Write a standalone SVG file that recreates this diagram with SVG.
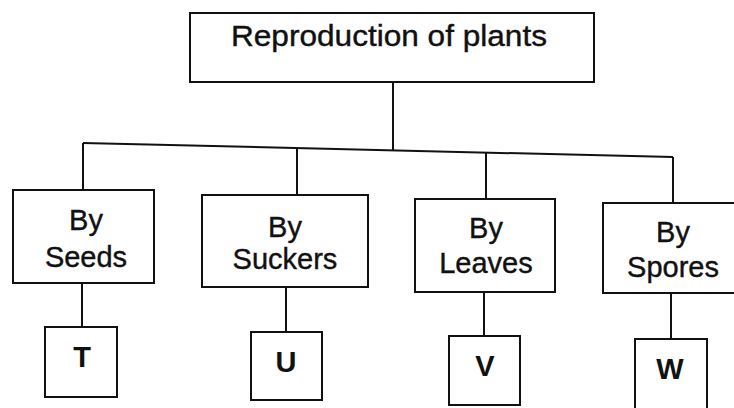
<svg xmlns="http://www.w3.org/2000/svg" width="734" height="408" viewBox="0 0 734 408">
<style>
.box{fill:#fff;stroke:#111;stroke-width:2}
.lbl{font-family:"Liberation Sans",Arial,sans-serif;font-size:29px;fill:#111;stroke:#111;stroke-width:0.4;text-anchor:middle}
.ltr{font-family:"Liberation Sans",Arial,sans-serif;font-size:29px;font-weight:bold;fill:#111;text-anchor:middle}
.con{fill:none;stroke:#111;stroke-width:2}
</style>
<rect width="734" height="408" fill="#fff"/>
<g id="connectors">
<line class="con" x1="393" y1="82" x2="393" y2="150"/>
<line class="con" x1="83" y1="143" x2="673" y2="157"/>
<line class="con" x1="83" y1="143" x2="83" y2="190"/>
<line class="con" x1="297" y1="148" x2="297" y2="195"/>
<line class="con" x1="486" y1="152" x2="486" y2="199"/>
<line class="con" x1="673" y1="157" x2="673" y2="203"/>
<line class="con" x1="82" y1="283" x2="82" y2="327"/>
<line class="con" x1="286" y1="287" x2="286" y2="332"/>
<line class="con" x1="484" y1="292" x2="484" y2="336"/>
<line class="con" x1="671" y1="293" x2="671" y2="339"/>
</g>
<g id="root">
<rect class="box" x="190" y="13" width="404" height="69"/>
<text class="lbl" x="389" y="46" textLength="316" lengthAdjust="spacingAndGlyphs">Reproduction of plants</text>
</g>
<g id="seeds">
<rect class="box" x="13" y="190" width="141" height="93"/>
<text class="lbl" x="86" y="230">By</text>
<text class="lbl" x="86" y="267">Seeds</text>
</g>
<g id="suckers">
<rect class="box" x="202" y="195" width="166" height="92"/>
<text class="lbl" x="285" y="237">By</text>
<text class="lbl" x="285" y="269">Suckers</text>
</g>
<g id="leaves">
<rect class="box" x="415" y="199" width="140" height="93"/>
<text class="lbl" x="486" y="238">By</text>
<text class="lbl" x="486" y="273">Leaves</text>
</g>
<g id="spores">
<rect class="box" x="603" y="203" width="135" height="90"/>
<text class="lbl" x="673" y="242">By</text>
<text class="lbl" x="673" y="277">Spores</text>
</g>
<g id="T">
<rect class="box" x="45" y="327" width="72" height="70"/>
<text class="ltr" x="82" y="367">T</text>
</g>
<g id="U">
<rect class="box" x="251" y="332" width="71" height="68"/>
<text class="ltr" x="286" y="372">U</text>
</g>
<g id="V">
<rect class="box" x="449" y="336" width="71" height="69"/>
<text class="ltr" x="485" y="376">V</text>
</g>
<g id="W">
<rect class="box" x="635" y="339" width="72" height="72"/>
<text class="ltr" x="670" y="379">W</text>
</g>
</svg>
